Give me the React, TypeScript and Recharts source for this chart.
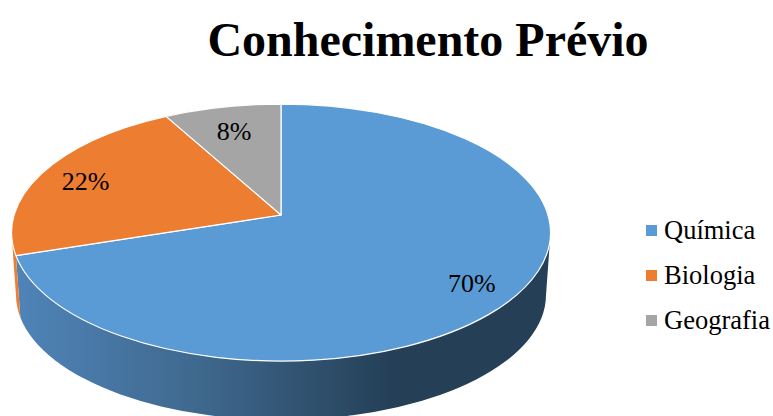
import { Legend, Pie, PieChart } from "recharts";

const categories = ["Química", "Biologia", "Geografia"];
const shares = [70, 22, 8];
const colors = ["#5B9BD5", "#ED7D31", "#A5A5A5"];
// how far out each percentage sits, as a fraction of the radius
const labelReach = [0.825, 0.82, 0.78];

const data = categories.map((name, i) => ({ name, value: shares[i], fill: colors[i] }));

// perspective of the tilted disc
const TILT = 0.136;
const SQUASH = 126 / 267;
const RIM = { rx: 269.5, ry: 128.5, cy: 232.5 };
const BASE = { rx: 265, ry: 125, cy: 295 };
// part of the rim that faces the viewer, clockwise degrees from 12 o'clock
const FRONT_FROM = 98;
const FRONT_TO = 262;

const clockwise = (angle: number) => 90 - angle;

// point on the top face; r is a fraction of the radius
function onFace(cx: number, cy: number, radius: number, deg: number, r = 1) {
  const s = Math.sin((deg * Math.PI) / 180);
  const c = Math.cos((deg * Math.PI) / 180);
  const d = 1 + TILT * r * c;
  return { x: cx + (radius * r * s) / d, y: cy - (radius * SQUASH * r * c) / d };
}

function onBase(p: { x: number; y: number }, cx: number) {
  return {
    x: cx + ((p.x - cx) * BASE.rx) / RIM.rx,
    y: BASE.cy + ((p.y - RIM.cy) * BASE.ry) / RIM.ry,
  };
}

// SVG arc flag: does the arc run over more than half of the ellipse?
function largeArc(a: { x: number; y: number }, b: { x: number; y: number }, cx: number) {
  const phi = (p: { x: number; y: number }) => Math.atan2((p.y - RIM.cy) / RIM.ry, (p.x - cx) / RIM.rx);
  const span = (phi(b) - phi(a) + 2 * Math.PI) % (2 * Math.PI);
  return span > Math.PI ? 1 : 0;
}

function TopSlice(props: any) {
  const { cx, cy, outerRadius, startAngle, endAngle, fill } = props;
  const a = onFace(cx, cy, outerRadius, clockwise(startAngle));
  const b = onFace(cx, cy, outerRadius, clockwise(endAngle));
  const flag = largeArc(a, b, cx);
  const d = `M${cx},${cy} L${a.x},${a.y} A${RIM.rx},${RIM.ry} 0 ${flag} 1 ${b.x},${b.y} Z`;
  return <path d={d} fill={fill} stroke="#fff" strokeWidth={1.2} strokeLinejoin="round" />;
}

function WallSlice(props: any) {
  const { cx, cy, outerRadius, startAngle, endAngle, index, fill } = props;
  const from = Math.max(clockwise(startAngle), FRONT_FROM);
  const to = Math.min(clockwise(endAngle), FRONT_TO);
  if (to <= from) return <g />;
  const a = onFace(cx, cy, outerRadius, from);
  const b = onFace(cx, cy, outerRadius, to);
  const a2 = onBase(a, cx);
  const b2 = onBase(b, cx);
  const d =
    `M${a.x},${a.y} A${RIM.rx},${RIM.ry} 0 0 1 ${b.x},${b.y} ` +
    `L${b2.x},${b2.y} A${BASE.rx},${BASE.ry} 0 0 0 ${a2.x},${a2.y} Z`;
  return <path d={d} fill={index === 0 ? "url(#wallShade)" : fill} />;
}

function percentLabel(props: any) {
  const { cx, cy, outerRadius, midAngle, value, index } = props;
  const p = onFace(cx, cy, outerRadius, clockwise(midAngle), labelReach[index]);
  return (
    <text
      x={p.x}
      y={p.y + 3}
      textAnchor="middle"
      dominantBaseline="central"
      fontFamily="Liberation Serif"
      fontSize={26}
      fill="#000"
    >
      {value}%
    </text>
  );
}

function LegendList() {
  return (
    <div style={{ fontFamily: "Liberation Serif", fontSize: 26.5, color: "#000" }}>
      {data.map((d) => (
        <div key={d.name} style={{ display: "flex", alignItems: "center", height: 45 }}>
          <span style={{ width: 11, height: 11, background: d.fill, marginRight: 7 }} />
          <span>{d.name}</span>
        </div>
      ))}
    </div>
  );
}

export default function App() {
  return (
    <div style={{ position: "absolute", left: 0, top: 0, width: 773, height: 416, background: "#fff" }}>
      <PieChart width={773} height={416} margin={{ top: 0, right: 0, bottom: 0, left: 0 }}>
        <defs>
          <linearGradient id="wallShade" gradientUnits="userSpaceOnUse" x1="16" y1="0" x2="395" y2="0">
            <stop offset="0" stopColor="#4F84B8" />
            <stop offset="0.5" stopColor="#3E678C" />
            <stop offset="1" stopColor="#243F56" />
          </linearGradient>
        </defs>
        <text
          x={428}
          y={56}
          textAnchor="middle"
          fontFamily="Liberation Serif"
          fontWeight="bold"
          fontSize={48}
          fill="#000"
        >
          Conhecimento Prévio
        </text>
        <Pie
          data={data}
          dataKey="value"
          nameKey="name"
          cx={281}
          cy={215}
          outerRadius={267}
          startAngle={90}
          endAngle={-270}
          stroke="none"
          legendType="none"
          shape={WallSlice}
          isAnimationActive={false}
        />
        <Pie
          data={data}
          dataKey="value"
          nameKey="name"
          cx={281}
          cy={215}
          outerRadius={267}
          startAngle={90}
          endAngle={-270}
          shape={TopSlice}
          label={percentLabel}
          labelLine={false}
          isAnimationActive={false}
        />
        <Legend
          layout="vertical"
          align="right"
          verticalAlign="middle"
          content={LegendList}
          wrapperStyle={{ position: "absolute", left: 646, top: 208, width: 127 }}
        />
      </PieChart>
    </div>
  );
}
